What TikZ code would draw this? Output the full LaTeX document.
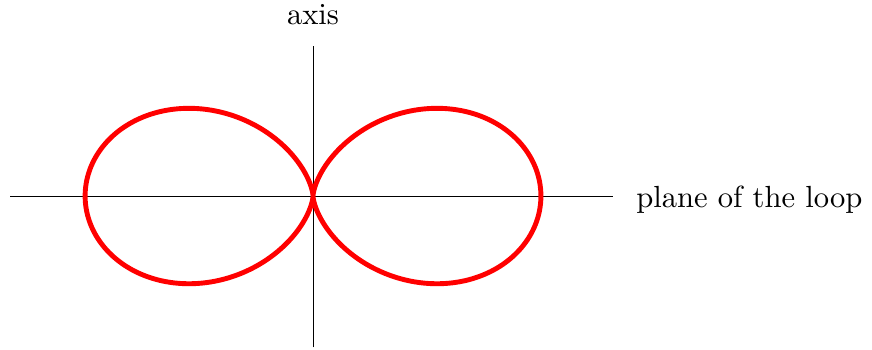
\documentclass[tikz,border=0pt]{standalone}
\usepackage{tikz}
\usetikzlibrary{positioning}

\begin{document}
\begin{tikzpicture}[font=\normalsize]
        \useasboundingbox (-3.598,-1.759) rectangle (6.425,2.253);
        \coordinate (west) at (-3.48,0);
        \coordinate (east) at (3.45,0);
        \coordinate (south) at (0,-1.74);
        \coordinate (north) at (0,1.72);
        \draw[line width=0.3pt] (west) -- (east);
        \draw[line width=0.3pt] (south) -- (north);
        \node (axislabel) at (0,2.08) {axis};
        \node[anchor=west,inner sep=0pt] (planelabel) at (3.71,-0.04) {plane of the loop};
        \draw[red,ultra thick,domain=0:360,samples=240,smooth] plot
          ({2.62*sin(\x)*sin(\x)*sin(\x)},{2.62*sin(\x)*sin(\x)*cos(\x)});
      \end{tikzpicture}
\end{document}
